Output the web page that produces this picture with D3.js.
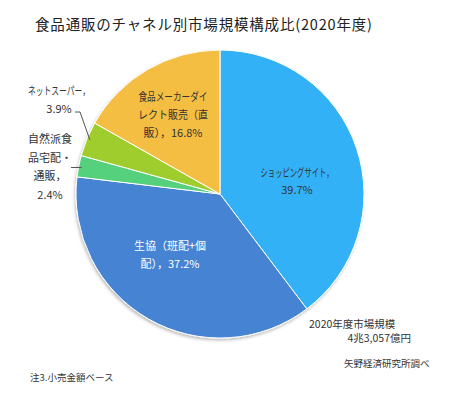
<!DOCTYPE html>
<html>
<head>
<meta charset="utf-8">
<script src="https://cdn.jsdelivr.net/npm/d3@7"></script>
<style>
  body { margin: 0; background: #fff; }
  svg { display: block; font-family: "Noto Sans CJK JP", "Noto Sans", sans-serif; }
</style>
</head>
<body>
<svg id="drawing_region"></svg>
<script>
// data
const channels = ["ショッピングサイト", "生協（班配+個配）", "自然派食品宅配・通販", "ネットスーパー", "食品メーカーダイレクト販売（直販）"];
const shares = [39.7, 37.2, 2.4, 3.9, 16.8];
const labelLines = [
    ["ショッピングサイト，", "39.7%"],
    ["生協（班配+個", "配），37.2%"],
    ["自然派食", "品宅配・", "通販，", "2.4%"],
    ["ネットスーパー，", "3.9%"],
    ["食品メーカーダイ", "レクト販売（直", "販），16.8%"]
];
const colors = ["#33b1f6", "#4683d3", "#54d07c", "#9fcd2e", "#f4be42"];

const config = {
    parent: '#drawing_region',
    width: 450,
    height: 409,
    cx: 220,
    cy: 194,
    radius: 144
};

const svg = d3.select(config.parent)
    .attr('width', config.width)
    .attr('height', config.height);

// soft shadow under the pie
const defs = svg.append('defs');
defs.append('filter')
    .attr('id', 'shadow')
    .attr('x', '-10%').attr('y', '-10%')
    .attr('width', '120%').attr('height', '120%')
    .append('feDropShadow')
    .attr('dx', -1).attr('dy', 2)
    .attr('stdDeviation', 1.5)
    .attr('flood-color', '#000')
    .attr('flood-opacity', 0.25);

// title
svg.append('text')
    .attr('x', 35)
    .attr('y', 30)
    .attr('font-size', '14.5px')
    .attr('fill', '#222')
    .attr('textLength', 337)
    .attr('lengthAdjust', 'spacing')
    .text('食品通販のチャネル別市場規模構成比(2020年度)');

const g = svg.append('g')
    .attr('transform', `translate(${config.cx}, ${config.cy})`);

const pie = d3.pie()
    .value(d => d.v)
    .sort(null);

const arc = d3.arc()
    .innerRadius(0)
    .outerRadius(config.radius);

const data = shares.map((v, i) => ({ name: channels[i], v: v, lines: labelLines[i], c: colors[i] }));
const arcs = pie(data);

g.append('g')
    .attr('filter', 'url(#shadow)')
    .selectAll('path')
    .data(arcs)
    .enter()
    .append('path')
    .attr('d', arc)
    .attr('fill', d => d.data.c)
    .attr('stroke', 'white')
    .attr('stroke-width', 1);

// label layout: [x, y of first line, text colour] relative to pie centre
const labelPos = [
    [77, -17, '#333'],
    [-50, 56, '#fff'],
    [-170, -51, '#333'],
    [-161, -99, '#333'],
    [-47, -93, '#333']
];
const lineGap = [17, 18, 18.5, 18, 18];
// kana-heavy lines are set narrower in the original font
const squeeze = {
    "ショッピングサイト，": 73,
    "ネットスーパー，": 62,
    "食品メーカーダイ": 69,
    "レクト販売（直": 70
};

arcs.forEach((d, i) => {
    const t = g.append('text')
        .attr('text-anchor', 'middle')
        .attr('font-size', '11px')
        .attr('fill', labelPos[i][2]);
    d.data.lines.forEach((line, j) => {
        const ts = t.append('tspan')
            .attr('x', labelPos[i][0])
            .attr('y', labelPos[i][1] + j * lineGap[i])
            .text(line);
        if (squeeze[line]) {
            ts.attr('textLength', squeeze[line]).attr('lengthAdjust', 'spacingAndGlyphs');
        }
    });
});

// leader lines for the small outside slices
const outer = d3.arc().innerRadius(config.radius - 2).outerRadius(config.radius - 2);
const leader = d3.line();
const c2 = outer.centroid(arcs[2]);
g.append('path')
    .attr('d', leader([[-149, c2[1] + 1], [c2[0] + 1, c2[1] + 1]]))
    .attr('fill', 'none')
    .attr('stroke', '#555')
    .attr('stroke-width', 1);
const c3 = outer.centroid(arcs[3]);
g.append('path')
    .attr('d', leader([[-145, -82], [-140, -82], [c3[0] + 1, c3[1]]]))
    .attr('fill', 'none')
    .attr('stroke', '#555')
    .attr('stroke-width', 1);

// notes
svg.append('text')
    .attr('x', 309).attr('y', 328)
    .attr('font-size', '10.5px').attr('fill', '#333')
    .text('2020年度市場規模');
svg.append('text')
    .attr('x', 411).attr('y', 342)
    .attr('text-anchor', 'end')
    .attr('font-size', '10.5px').attr('fill', '#333')
    .text('4兆3,057億円');
svg.append('text')
    .attr('x', 344).attr('y', 367)
    .attr('font-size', '9.5px').attr('fill', '#333')
    .text('矢野経済研究所調べ');
svg.append('text')
    .attr('x', 30).attr('y', 381)
    .attr('font-size', '9.5px').attr('fill', '#333')
    .text('注3.小売金額ベース');
</script>
</body>
</html>
